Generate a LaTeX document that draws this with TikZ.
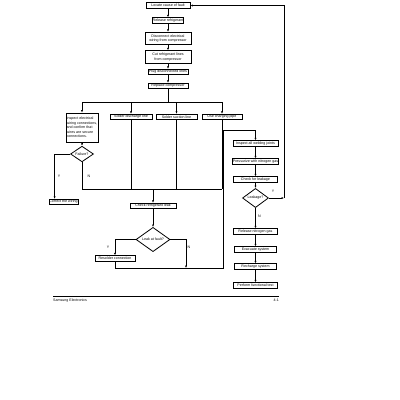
\documentclass[tikz,border=0pt]{standalone}
\usepackage{fontspec}
\setmainfont{Liberation Sans}
\usetikzlibrary{shapes.geometric,arrows.meta,calc}
\newcommand{\fsz}{\fontsize{3.6}{4.6}\selectfont}
\tikzset{
  box/.style={draw, line width=0.8pt, inner sep=0.4pt, align=center, font=\fsz, minimum height=5.5pt},
  dia/.style={draw, diamond, line width=0.8pt, inner sep=0pt, font=\fsz},
  conn/.style={line width=0.75pt},
  arr/.style={line width=0.75pt, -{Latex[length=2.4pt,width=2pt]}},
  lbl/.style={font=\fsz, inner sep=0pt}
}
\begin{document}
\begin{tikzpicture}[x=1pt,y=-1pt]
\useasboundingbox[fill=white] (0,0) rectangle (400,400);
% main column
\node[box, minimum width=44pt] (b1) at (168,5.5) {Locate cause of fault};
\node[box, minimum width=30pt] (b2) at (168,20.5) {Release refrigerant};
\node[box, minimum width=46pt, minimum height=12.5pt] (b3) at (168,38.5) {Disconnect electrical\\wiring from compressor};
\node[box, minimum width=46pt, minimum height=12.5pt] (b4) at (168,57) {Cut refrigerant lines\\from compressor};
\node[box, minimum width=40pt] (b5) at (168,72) {Plug disconnected lines};
\node[box, minimum width=40pt] (b6) at (168,86) {Replace compressor};
\draw[arr] (b1) -- (b2);
\draw[arr] (b2) -- (b3);
\draw[arr] (b3) -- (b4);
\draw[arr] (b4) -- (b5);
\draw[arr] (b5) -- (b6);
% branches
\coordinate (bar) at (168,102);
\node[box, minimum width=32pt, minimum height=29pt, align=left] (i1) at (82,127.5) {Inspect electrical\\wiring connections,\\and confirm that\\wires are secure\\connections.};
\node[box, minimum width=42pt] (s1) at (131,117) {Solder discharge line};
\node[box, minimum width=41pt] (s2) at (176.5,117) {Solder suction line};
\node[box, minimum width=40pt] (s3) at (222,117) {Use charging pipe};
\draw[conn] (b6.south) -- (bar);
\draw[conn] (i1.north |- bar) -- (s3.north |- bar);
\draw[arr] (i1.north |- bar) -- (i1.north);
\draw[arr] (s1.north |- bar) -- (s1.north);
\draw[arr] (s2.north |- bar) -- (s2.north);
\draw[arr] (s3.north |- bar) -- (s3.north);
% failure decision
\node[dia, minimum width=23pt, minimum height=10pt] (fail) at (82,154) {Failure?};
\draw[arr] (i1.south) -- (fail.north);
\node[box, minimum width=27pt] (corr) at (63.5,202) {Correct the wiring};
\draw[arr] (fail.west) -| ([xshift=6pt]corr.north west);
\node[lbl] (ly1) at (59,176) {Y};
\node[lbl] (ln1) at (89,176) {N};
\coordinate (bot) at (168,189);
\draw[conn] (fail.south) -- (fail.south |- bot);
\draw[conn] (fail.south |- bot) -- (s3.south |- bot);
\draw[conn] (s1.south) -- (s1.south |- bot);
\draw[conn] (s2.south) -- (s2.south |- bot);
\draw[conn] (s3.south) -- (s3.south |- bot);
% check leak
\node[box, minimum width=46pt] (chk) at (153,206) {Check refrigerant leak};
\draw[arr] (chk.north |- bot) -- (chk.north);
\node[dia, minimum width=34pt, minimum height=21pt] (leak) at (153,239.5) {Leak at fault?};
\draw[arr] (chk.south) -- (leak.north);
\node[box, minimum width=40pt] (res) at (115,258.5) {Resolder connection};
\draw[arr] (leak.west) -| (res.north);
\node[lbl] (ly2) at (108,247) {Y};
\node[lbl] (ln2) at (189,247) {N};
\coordinate (jn) at (186,268);
\coordinate (c1) at (223,268);
\coordinate (c2) at (223,130);
\draw[arr] (leak.east) -| (jn);
% right column
\node[box, minimum width=45pt] (r1) at (255.5,143.5) {Inspect all welding joints};
\node[box, minimum width=45pt] (r2) at (255.5,161.5) {Pressurize with nitrogen gas};
\node[box, minimum width=44pt] (r3) at (255.5,179.5) {Check for leakage};
\node[dia, minimum width=26pt, minimum height=12pt] (ld) at (255.5,198) {Leakage?};
\node[box, minimum width=44pt] (r4) at (255.5,231.5) {Release nitrogen gas};
\node[box, minimum width=42pt] (r5) at (255.5,249.5) {Evacuate system};
\node[box, minimum width=42pt] (r6) at (255.5,266.5) {Recharge system};
\node[box, minimum width=44pt] (r7) at (255.5,285.5) {Perform functional test};
\draw[conn] (res.south) |- (c1) -- (c2);
\draw[arr] (c2) -| (r1.north);
\draw[arr] (r1) -- (r2);
\draw[arr] (r2) -- (r3);
\draw[arr] (r3) -- (ld);
\coordinate (yj) at (284,198);
\draw[arr] (ld.east) -- (yj);
\draw[arr] (yj) |- (b1.east);
\node[lbl] (ly3) at (273,191) {Y};
\node[lbl] (ln3) at (259.5,216) {N};
\draw[arr] (ld.south) -- (r4.north);
\draw[arr] (r4) -- (r5);
\draw[arr] (r5) -- (r6);
\draw[arr] (r6) -- (r7);
% footer
\coordinate (fl) at (53,296);
\coordinate (fr) at (279,296);
\draw[line width=0.7pt] (fl) -- (fr);
\node[lbl, anchor=west] (ft1) at (53,300.5) {Samsung Electronics};
\node[lbl, anchor=east] (ft2) at (279,300.5) {4-1};
\end{tikzpicture}
\end{document}
